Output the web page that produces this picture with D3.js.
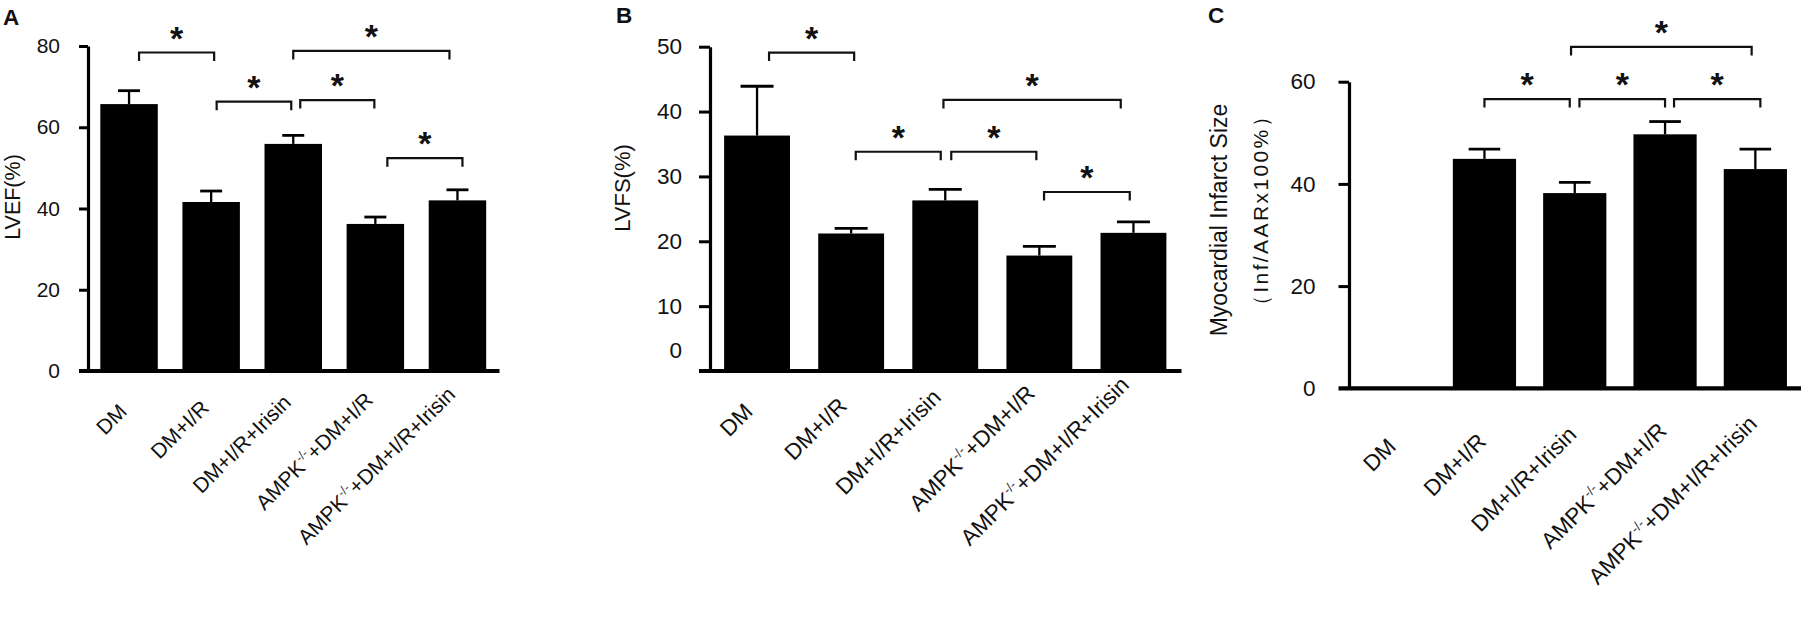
<!DOCTYPE html>
<html>
<head>
<meta charset="utf-8">
<script src="https://cdn.jsdelivr.net/npm/d3@7"></script>
<style>
  html, body { margin: 0; padding: 0; background: #fff; }
  svg { display: block; }
  text { font-family: "Liberation Sans", Arial, sans-serif; fill: #111; }
</style>
</head>
<body>
<svg id="chart" width="1801" height="627"></svg>
<script>
// ---------------- data ----------------
const categories = ["DM", "DM+I/R", "DM+I/R+Irisin", "AMPK-/-+DM+I/R", "AMPK-/-+DM+I/R+Irisin"];

const lvefMean = [65.7, 41.6, 55.9, 36.2, 42.0];
const lvefErr  = [3.3, 2.7, 2.1, 1.7, 2.6];
const lvefTicks = [0, 20, 40, 60, 80];
const lvefSig = [[0, 1, 78.4], [1, 2, 66.3], [2, 3, 66.7], [2, 4, 78.8], [3, 4, 52.4]];

const lvfsMean = [36.3, 21.2, 26.3, 17.8, 21.3];
const lvfsErr  = [7.6, 0.8, 1.7, 1.4, 1.7];
const lvfsTicks = [0, 10, 20, 30, 40, 50];
const lvfsSig = [[0, 1, 49.1], [1, 2, 33.8], [2, 3, 33.8], [2, 4, 41.8], [3, 4, 27.6]];

const infarctMean = [0, 44.9, 38.2, 49.7, 42.9];
const infarctErr  = [0, 1.9, 2.1, 2.5, 3.9];
const infarctTicks = [0, 20, 40, 60];
const infarctSig = [[1, 2, 56.6], [2, 3, 56.6], [3, 4, 56.6], [2, 4, 66.8]];

// ---------------- layout (styles / positions) ----------------
const panels = [
  { letter: "A", letterX: 3, letterY: 25,
    mean: lvefMean, err: lvefErr, ticks: lvefTicks, sig: lvefSig,
    sigDx: [[10, 3], [5.5, -2], [7, -1], [0, -8], [12, 5]],
    ymax: 80, x0: 88, x1: 498.5, y0: 371, yTop: 46,
    tickSize: 9, tickPad: 19, tickFont: 21, capW: 22,
    labFont: 21, labA: 45, labB: 0.095, labDx: -1, zeroShift: 0,
    titles: [{ text: "LVEF(%)", x: 20, y: 197, size: 21.5, fill: "#111", ls: 0 }] },
  { letter: "B", letterX: 616, letterY: 23,
    mean: lvfsMean, err: lvfsErr, ticks: lvfsTicks, sig: lvfsSig,
    sigDx: [[12, 3], [4.6, -4.5], [6, -3], [-1.8, -12.7], [4.7, -3.7]],
    ymax: 50, x0: 710, x1: 1180.5, y0: 371, yTop: 46.7,
    tickSize: 11, tickPad: 17, tickFont: 22.5, capW: 33,
    labFont: 22.5, labA: 47, labB: 0.14, labDx: -3, zeroShift: -21,
    titles: [{ text: "LVFS(%)", x: 630, y: 188, size: 22, fill: "#111", ls: 0 }] },
  { letter: "C", letterX: 1208, letterY: 23,
    mean: infarctMean, err: infarctErr, ticks: infarctTicks, sig: infarctSig,
    sigDx: [[0, -5], [4.7, 0], [9, 5], [-3.7, -3.7]],
    ymax: 60, x0: 1349, x1: 1800.5, y0: 388.3, yTop: 81.7,
    tickSize: 10.5, tickPad: 23, tickFont: 22.5, capW: 31.6,
    labFont: 22.5, labA: 64, labB: 0.12, labDx: 3, zeroShift: 0,
    titles: [
      { text: "Myocardial Infarct Size", x: 1227, y: 220, size: 23, fill: "#111", ls: 0 },
      { text: "（Inf/AARx100%）", x: 1268, y: 210, size: 21, fill: "#333", ls: 2.4 }
    ] }
];

const svg = d3.select("#chart");

function drawPanel(p) {
  const g = svg.append("g");
  const x = d3.scaleBand().domain(categories).range([p.x0, p.x1])
    .paddingInner(0.3).paddingOuter(0.15);
  const y = d3.scaleLinear().domain([0, p.ymax]).range([p.y0, p.yTop]);
  const cx = i => x(categories[i]) + x.bandwidth() / 2;

  const rows = categories.map((c, i) => ({ c, i, v: p.mean[i], e: p.err[i] }));

  // bars
  g.append("g").selectAll("rect").data(rows.filter(d => d.v > 0)).join("rect")
    .attr("x", d => x(d.c))
    .attr("y", d => y(d.v))
    .attr("width", x.bandwidth())
    .attr("height", d => y(0) - y(d.v))
    .attr("fill", "#000");

  // error bars (upper only)
  const eb = g.append("g").attr("stroke", "#000");
  const er = rows.filter(d => d.e > 0);
  eb.selectAll("line.v").data(er).join("line").attr("class", "v")
    .attr("x1", d => cx(d.i)).attr("x2", d => cx(d.i))
    .attr("y1", d => y(d.v)).attr("y2", d => y(d.v + d.e))
    .attr("stroke-width", 2.3);
  eb.selectAll("line.c").data(er).join("line").attr("class", "c")
    .attr("x1", d => cx(d.i) - p.capW / 2).attr("x2", d => cx(d.i) + p.capW / 2)
    .attr("y1", d => y(d.v + d.e)).attr("y2", d => y(d.v + d.e))
    .attr("stroke-width", 2.8);

  // y axis
  const ax = g.append("g").attr("transform", `translate(${p.x0},0)`)
    .call(d3.axisLeft(y).tickValues(p.ticks).tickSize(p.tickSize)
      .tickPadding(p.tickPad).tickSizeOuter(0).tickFormat(d3.format("d")));
  ax.select(".domain").attr("stroke", "#000").attr("stroke-width", 3.2);
  ax.selectAll(".tick line").attr("stroke", "#000").attr("stroke-width", 3);
  ax.selectAll(".tick text")
    .style("font-family", '"Liberation Sans", Arial, sans-serif')
    .attr("font-size", p.tickFont).attr("fill", "#111");
  if (p.zeroShift) {
    ax.selectAll(".tick").filter(d => d === 0).select("text")
      .attr("transform", `translate(0,${p.zeroShift})`);
  }
  ax.selectAll(".tick").filter(d => d === 0).select("line").remove();

  // baseline (x axis)
  g.append("line")
    .attr("x1", p.x0 - p.tickSize).attr("x2", p.x1 + 1)
    .attr("y1", y(0)).attr("y2", y(0))
    .attr("stroke", "#000").attr("stroke-width", 4.2);

  // x labels
  const lab = g.append("g").selectAll("text").data(categories).join("text")
    .attr("text-anchor", "end")
    .attr("font-size", p.labFont);
  lab.each(function (c) {
    const t = d3.select(this);
    const m = c.match(/^AMPK-\/-(.*)$/);
    if (m) {
      const s = p.labFont;
      t.append("tspan").text("AMPK");
      t.append("tspan").text("-/-").attr("font-size", s * 0.6).attr("dy", -s * 0.42)
        .attr("fill", "#333");
      t.append("tspan").text(m[1]).attr("dy", s * 0.42);
    } else {
      t.text(c);
    }
  });
  lab.attr("transform", function (c, i) {
    const len = this.getComputedTextLength();
    return `translate(${cx(i) + p.labDx},${y(0) + p.labA - p.labB * len}) rotate(-45)`;
  });

  // significance brackets
  const sg = g.append("g");
  p.sig.forEach((s, k) => {
    const [i, j, v] = s;
    const [d0, d1] = p.sigDx[k];
    const xa = cx(i) + d0, xb = cx(j) + d1, yb = y(v);
    const leg = 8.5;
    sg.append("path")
      .attr("d", `M${xa},${yb + leg}V${yb}H${xb}V${yb + leg}`)
      .attr("fill", "none").attr("stroke", "#111").attr("stroke-width", 2.2);
    sg.append("text").text("*")
      .attr("x", (xa + xb) / 2).attr("y", yb - 3)
      .attr("text-anchor", "middle")
      .attr("font-size", 34).attr("font-weight", "bold").attr("fill", "#111");
  });

  // axis titles
  p.titles.forEach(tt => {
    g.append("text").text(tt.text)
      .attr("transform", `translate(${tt.x},${tt.y}) rotate(-90)`)
      .attr("text-anchor", "middle")
      .attr("font-size", tt.size)
      .attr("letter-spacing", tt.ls)
      .attr("fill", tt.fill);
  });

  // panel letter
  g.append("text").text(p.letter)
    .attr("x", p.letterX).attr("y", p.letterY)
    .attr("font-size", 22.5).attr("font-weight", "bold").attr("fill", "#000");
}

panels.forEach(drawPanel);
</script>
</body>
</html>
